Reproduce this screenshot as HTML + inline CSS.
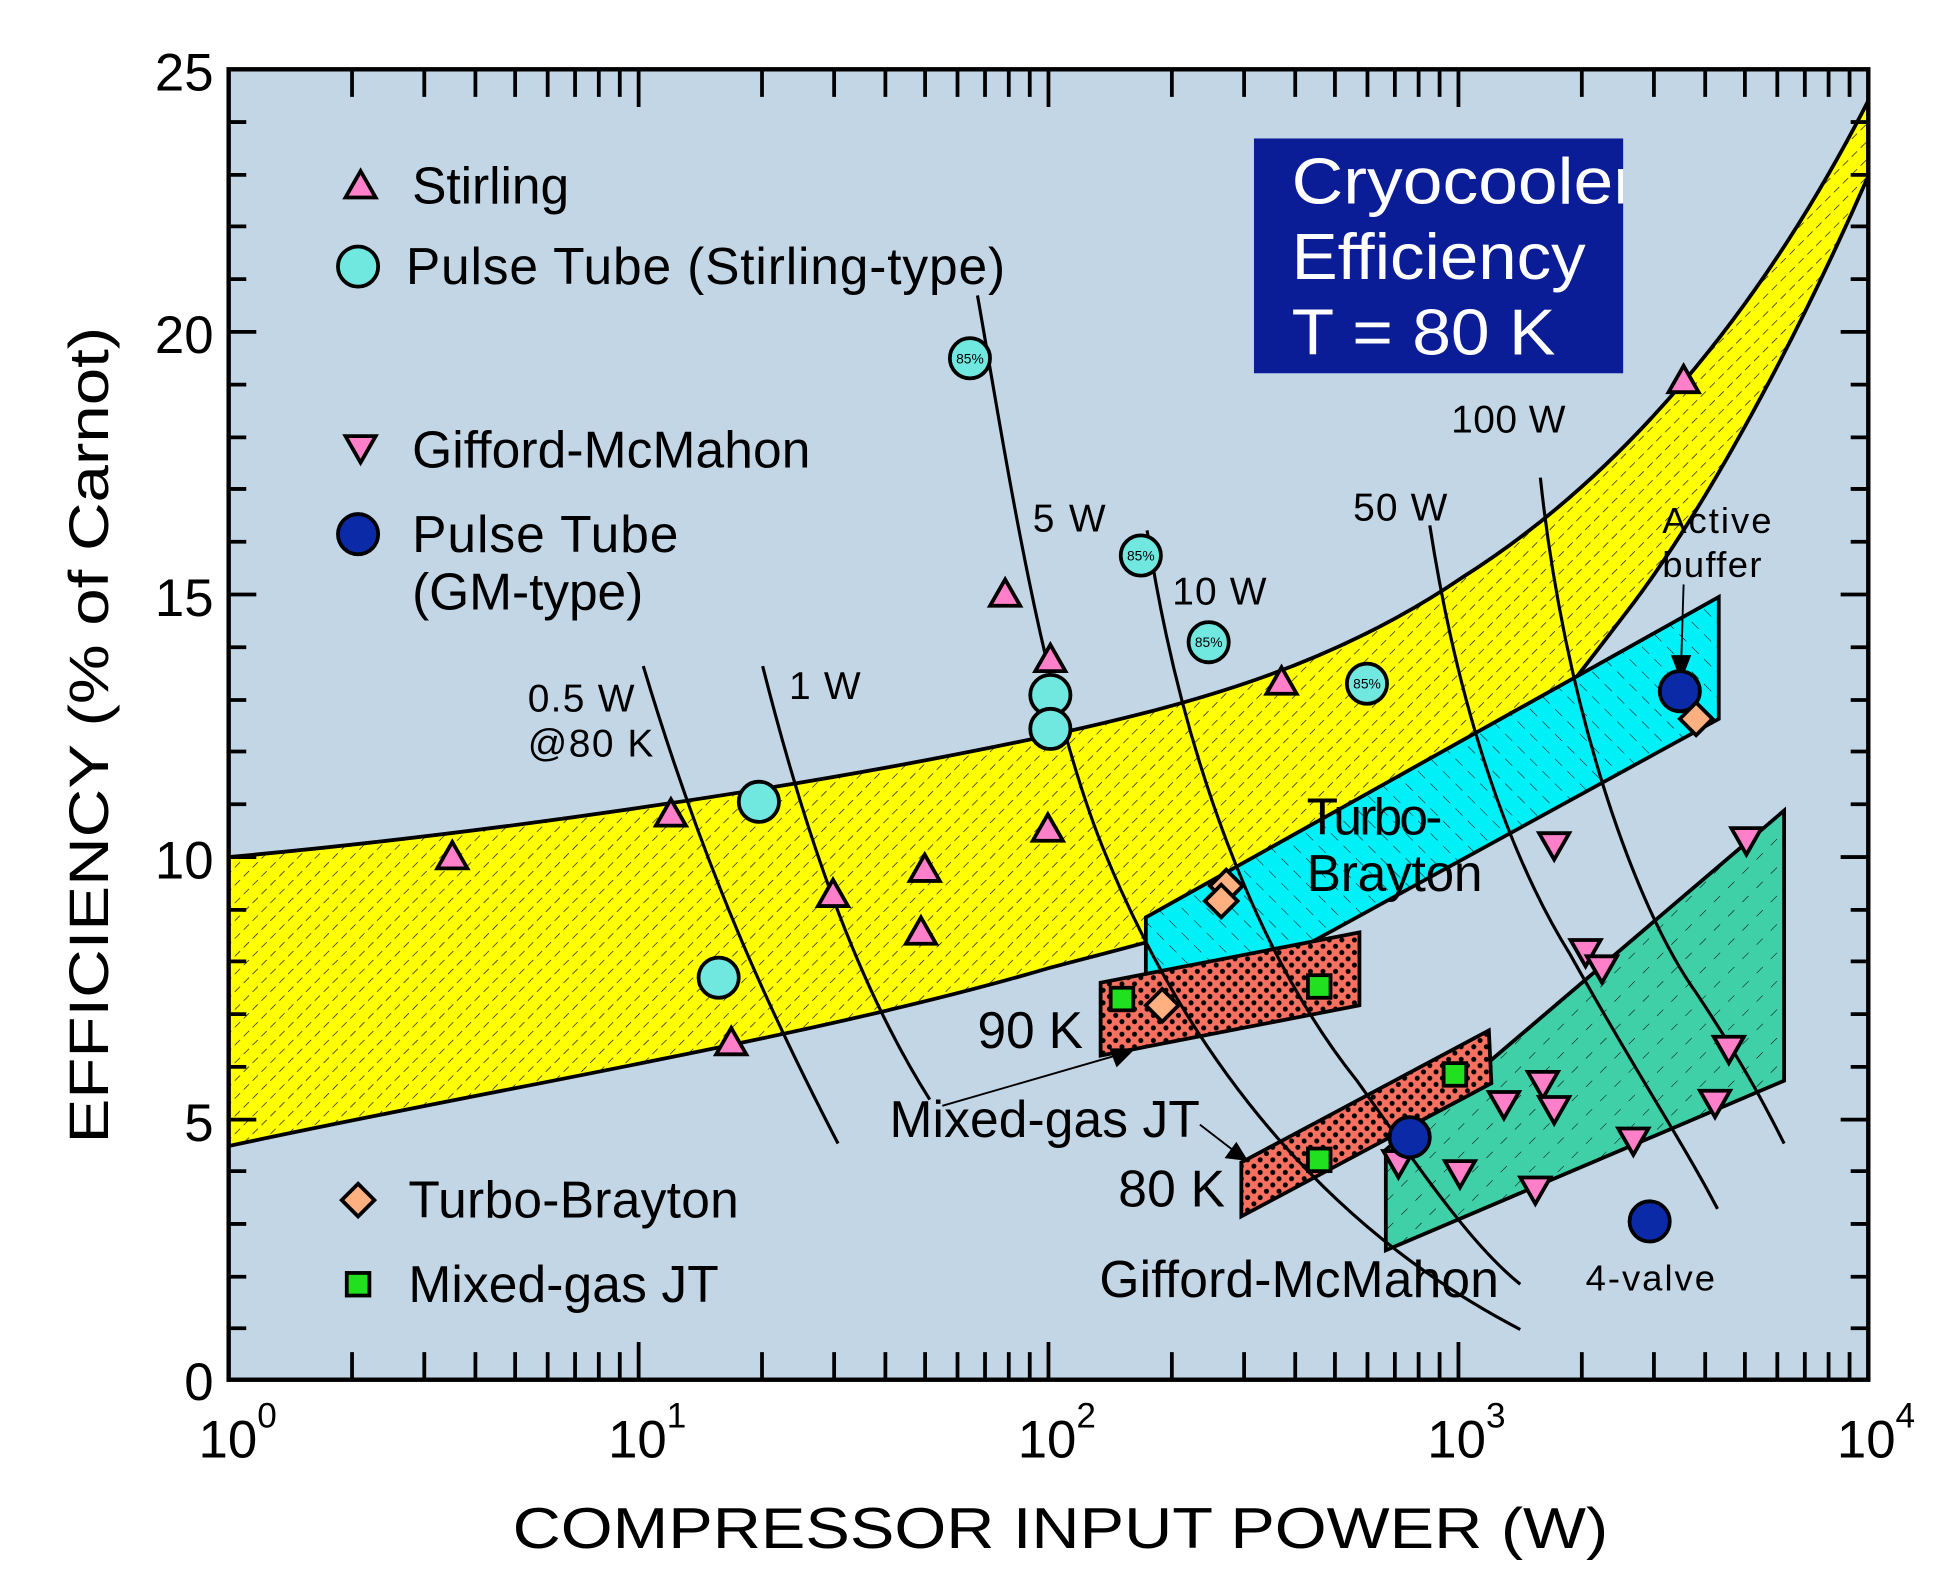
<!DOCTYPE html>
<html><head><meta charset="utf-8"><style>html,body{margin:0;padding:0;background:#fff}svg{display:block}</style></head>
<body>
<svg width="1960" height="1591" viewBox="0 0 1560 1266" xmlns="http://www.w3.org/2000/svg" font-family="Liberation Sans, Arial, sans-serif">
<defs>
<pattern id="hy" width="10" height="10" patternUnits="userSpaceOnUse" patternTransform="rotate(45)"><rect width="10" height="10" fill="#ffff00"/><line x1="0" y1="0" x2="0" y2="6" stroke="#000" stroke-width="1"/></pattern>
<pattern id="hc" width="14" height="14" patternUnits="userSpaceOnUse" patternTransform="rotate(-45)"><rect width="14" height="14" fill="#00f0f8"/><line x1="0" y1="0" x2="0" y2="8" stroke="#000" stroke-width="0.8"/></pattern>
<pattern id="hg" width="16" height="16" patternUnits="userSpaceOnUse" patternTransform="rotate(45)"><rect width="16" height="16" fill="#40d0a8"/><line x1="0" y1="0" x2="0" y2="7" stroke="#000" stroke-width="0.8"/></pattern>
<pattern id="dots" width="10" height="10" patternUnits="userSpaceOnUse"><rect width="10" height="10" fill="#f87060"/><circle cx="3" cy="3" r="2" fill="#000"/><circle cx="8" cy="8" r="2" fill="#000"/></pattern>
<polygon id="up" points="0,-12 -12,9 12,9" fill="#ff80c8" stroke="#000" stroke-width="3"/>
<polygon id="dn" points="0,12 -12,-9 12,-9" fill="#ff80c8" stroke="#000" stroke-width="3"/>
<circle id="pc" r="16" fill="#70e8e0" stroke="#000" stroke-width="3"/>
<circle id="gc" r="16" fill="#0a2aa8" stroke="#000" stroke-width="3"/>
<polygon id="di" points="0,-13 13,0 0,13 -13,0" fill="#ffb080" stroke="#000" stroke-width="3"/>
<rect id="sq" x="-9" y="-9" width="18" height="18" fill="#20e020" stroke="#000" stroke-width="3"/>
</defs>
<rect x="182" y="55" width="1305" height="1043" fill="#c2d6e6"/>
<path d="M182,682 C400,662 650,625 836,585 C950,560 1060,530 1163,460 C1290,380 1400,250 1487,80 L1487,140 C1430,270 1360,400 1300,480 C1250,545 1210,600 1163,640 C1060,715 950,740 836,770 C650,825 400,865 182,912 Z" fill="url(#hy)" stroke="#000" stroke-width="3"/>
<path d="M912,730 L1368,475 L1368,572 L912,822 Z" fill="url(#hc)" stroke="#000" stroke-width="3"/>
<path d="M1103,915 L1420,645 L1420,860 L1103,995 Z" fill="url(#hg)" stroke="#000" stroke-width="3"/>
<path d="M876,782 L1082,742 L1082,800 L876,840 Z" fill="url(#dots)" stroke="#000" stroke-width="3"/>
<path d="M988,925 L1185,820 L1187,862 L988,968 Z" fill="url(#dots)" stroke="#000" stroke-width="3"/>
<g fill="none" stroke="#000" stroke-width="2.5">
<path d="M512,530 C560,690 610,800 667,910"/>
<path d="M607,530 C640,660 680,780 740,875"/>
<path d="M778,235 C800,360 830,560 880,680 C950,850 1060,980 1210,1058"/>
<path d="M913,422 C940,600 1000,760 1080,860 C1130,930 1170,990 1210,1022"/>
<path d="M1138,418 C1160,560 1200,680 1250,760 C1300,850 1340,910 1367,962"/>
<path d="M1226,380 C1245,560 1300,720 1350,790 C1390,850 1410,890 1420,910"/>
</g>
<g stroke="#000" stroke-width="1.5" fill="#000">
<line x1="750" y1="880" x2="895" y2="838"/><polygon points="902,835 884,835 889,848"/>
<line x1="955" y1="895" x2="985" y2="918"/><polygon points="992,923 976,921 984,910"/>
<line x1="1340" y1="465" x2="1338" y2="530"/><polygon points="1338,540 1331,522 1345,522"/>
</g>
<rect x="182" y="55" width="1305" height="1043" fill="none" stroke="#000" stroke-width="3.5"/>
<g stroke="#000" stroke-width="3">
<path d="M182,97h14M182,139h14M182,180h14M182,222h14M182,264h22M182,306h14M182,348h14M182,389h14M182,431h14M182,473h22M182,515h14M182,557h14M182,598h14M182,640h14M182,682h22M182,724h14M182,765h14M182,807h14M182,849h14M182,891h22M182,932h14M182,974h14M182,1016h14M182,1057h14"/>
<path d="M1487,97h-14M1487,139h-14M1487,180h-14M1487,222h-14M1487,264h-22M1487,306h-14M1487,348h-14M1487,389h-14M1487,431h-14M1487,473h-22M1487,515h-14M1487,557h-14M1487,598h-14M1487,640h-14M1487,682h-22M1487,724h-14M1487,765h-14M1487,807h-14M1487,849h-14M1487,891h-22M1487,932h-14M1487,974h-14M1487,1016h-14M1487,1057h-14"/>
<g id="xt"></g>
</g>
<script>
(function(){var d='';for(var k=0;k<4;k++){for(var m=2;m<=10;m++){var x=182+326.25*(k+Math.log10(m));var L=(m==10)?30:22;d+='M'+x.toFixed(1)+',1098v-'+L+'M'+x.toFixed(1)+',55v'+L;}}
var p=document.createElementNS('http://www.w3.org/2000/svg','path');p.setAttribute('d',d);document.getElementById('xt').appendChild(p);})();
</script>
<g font-size="42" text-anchor="end">
<text x="170" y="72">25</text><text x="170" y="281">20</text><text x="170" y="490">15</text><text x="170" y="699">10</text><text x="170" y="908">5</text><text x="170" y="1114">0</text>
</g>
<g font-size="42">
<text x="158" y="1160">10<tspan font-size="28" dy="-24">0</tspan></text>
<text x="484" y="1160">10<tspan font-size="28" dy="-24">1</tspan></text>
<text x="810" y="1160">10<tspan font-size="28" dy="-24">2</tspan></text>
<text x="1136" y="1160">10<tspan font-size="28" dy="-24">3</tspan></text>
<text x="1462" y="1160">10<tspan font-size="28" dy="-24">4</tspan></text>
</g>
<text x="408" y="1232" font-size="46" textLength="872" lengthAdjust="spacingAndGlyphs">COMPRESSOR  INPUT  POWER   (W)</text>
<text transform="translate(86,910) rotate(-90)" font-size="44" textLength="650" lengthAdjust="spacingAndGlyphs">EFFICIENCY   (% of Carnot)</text>
<svg x="998" y="110" width="294" height="187"><rect width="294" height="187" fill="#0b1d96"/>
<g fill="#fff" font-size="52"><text x="30" y="52" textLength="275" lengthAdjust="spacingAndGlyphs">Cryocooler</text><text x="30" y="112" textLength="234" lengthAdjust="spacingAndGlyphs">Efficiency</text><text x="30" y="172" textLength="210" lengthAdjust="spacingAndGlyphs">T = 80 K</text></g></svg>
<g font-size="31" lengthAdjust="spacingAndGlyphs">
<text x="420" y="566" textLength="85">0.5 W</text><text x="420" y="602" textLength="100">@80 K</text><text x="628" y="556" textLength="57">1 W</text><text x="822" y="423" textLength="58">5 W</text><text x="933" y="481" textLength="75">10 W</text><text x="1077" y="414" textLength="75">50 W</text><text x="1155" y="344" textLength="91">100 W</text></g>
<g font-size="29"><text x="1323" y="424" textLength="87">Active</text><text x="1323" y="459" textLength="79">buffer</text><text x="1262" y="1027" textLength="103">4-valve</text></g>
<g font-size="41"><text x="1040" y="664" textLength="108">Turbo-</text><text x="1040" y="709" textLength="140">Brayton</text><text x="778" y="834" textLength="84">90 K</text><text x="708" y="905" textLength="247">Mixed-gas JT</text><text x="890" y="960" textLength="85">80 K</text><text x="875" y="1032" textLength="318">Gifford-McMahon</text></g>
<g font-size="41">
<text x="328" y="162" textLength="125">Stirling</text><text x="323" y="226" textLength="477">Pulse Tube  (Stirling-type)</text>
<text x="328" y="372" textLength="317">Gifford-McMahon</text><text x="328" y="439" textLength="212">Pulse Tube</text><text x="328" y="485" textLength="184">(GM-type)</text>
<text x="325" y="969" textLength="263">Turbo-Brayton</text><text x="325" y="1036" textLength="247">Mixed-gas JT</text>
</g>
<use href="#up" x="360" y="682"/><use href="#up" x="534" y="648"/><use href="#up" x="582" y="830"/><use href="#up" x="663" y="712"/><use href="#up" x="736" y="692"/><use href="#up" x="733" y="742"/><use href="#up" x="800" y="473"/><use href="#up" x="836" y="525"/><use href="#up" x="834" y="660"/><use href="#up" x="1020" y="543"/><use href="#up" x="1340" y="303"/><use href="#up" x="287" y="148"/>
<use href="#dn" x="1237" y="672"/><use href="#dn" x="1262" y="757"/><use href="#dn" x="1275" y="770"/><use href="#dn" x="1197" y="878"/><use href="#dn" x="1228" y="862"/><use href="#dn" x="1237" y="882"/><use href="#dn" x="1222" y="946"/><use href="#dn" x="1162" y="933"/><use href="#dn" x="1113" y="925"/><use href="#dn" x="1300" y="907"/><use href="#dn" x="1365" y="877"/><use href="#dn" x="1376" y="834"/><use href="#dn" x="1390" y="668"/><use href="#dn" x="287" y="356"/>
<use href="#pc" x="604" y="638"/><use href="#pc" x="572" y="778"/><use href="#pc" x="836" y="553"/><use href="#pc" x="836" y="580"/><use href="#pc" x="772" y="285"/><use href="#pc" x="908" y="442"/><use href="#pc" x="962" y="511"/><use href="#pc" x="1088" y="544"/><use href="#pc" x="285" y="212"/>
<g font-size="11" text-anchor="middle"><text x="772" y="289">85%</text><text x="908" y="446">85%</text><text x="962" y="515">85%</text><text x="1088" y="548">85%</text></g>
<use href="#gc" x="1337" y="550"/><use href="#gc" x="1122" y="905"/><use href="#gc" x="1313" y="972"/><use href="#gc" x="285" y="425"/>
<use href="#di" x="976" y="705"/><use href="#di" x="972" y="717"/><use href="#di" x="925" y="800"/><use href="#di" x="1350" y="572"/><use href="#di" x="285" y="955"/>
<use href="#sq" x="893" y="795"/><use href="#sq" x="1050" y="785"/><use href="#sq" x="1158" y="855"/><use href="#sq" x="1050" y="923"/><use href="#sq" x="285" y="1022"/>
</svg>
</body></html>
